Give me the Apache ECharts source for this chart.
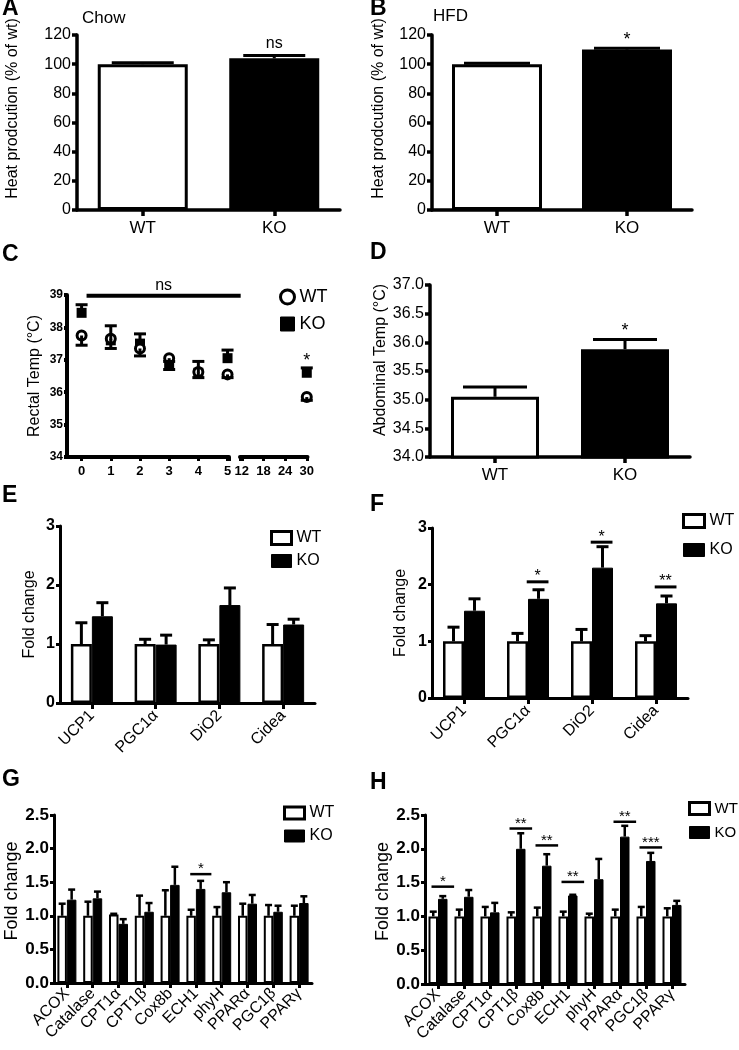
<!DOCTYPE html>
<html><head><meta charset="utf-8">
<script src="https://cdn.jsdelivr.net/npm/echarts@6/dist/echarts.min.js"></script>
<style>html,body{margin:0;padding:0;background:#fff}#c{width:739px;height:1050px}</style>
</head><body><div id="c"></div>
<script>
// ---------------- DATA ----------------
const groupCats = ['WT', 'KO'];
// A: Chow heat production (% of wt)
const heatChow = [100, 104];
const heatChowErr = [101, 106];
const sigChow = [[1, 114, 'ns']];
// B: HFD heat production
const heatHFD = [100, 110];
const heatHFDErr = [100.6, 111];
const sigHFD = [[1, 116.5, '*']];
// C: Rectal temperature over time (h)
const rectalTimes = [0, 1, 2, 3, 4, 5, 30];
const rectalTicksEarly = [0, 1, 2, 3, 4, 5];
const rectalTicksLate = [12, 18, 24, 30];
const rectalWT = [37.75, 37.65, 37.35, 37.05, 36.62, 36.55, 35.85];
const rectalWTLow = [37.45, 37.35, 37.12, 36.7, 36.45, 36.45, 35.75];
const rectalKO = [38.45, 37.6, 37.5, 36.82, 36.6, 37.05, 36.6];
const rectalKOHigh = [38.7, 38.05, 37.8, 36.95, 36.95, 37.3, 36.75];
const rectalNs = [0.17, 5.45, 38.98];
const rectalStar = [[30, 36.95, '*']];
// D: Abdominal temperature
const abdTemp = [35.05, 35.88];
const abdTempErr = [35.22, 36.05];
const sigAbd = [[1, 36.2, '*']];
// E / F: thermogenic genes
const thermoCats = ['UCP1', 'PGC1α', 'DiO2', 'Cidea'];
const eWT = [1, 1, 1, 1];
const eWTErr = [1.36, 1.08, 1.07, 1.33];
const eKO = [1.47, 0.99, 1.66, 1.33];
const eKOErr = [1.70, 1.15, 1.95, 1.42];
const fWT = [1, 1, 1, 1];
const fWTErr = [1.25, 1.14, 1.21, 1.10];
const fKO = [1.54, 1.75, 2.30, 1.67];
const fKOErr = [1.75, 1.91, 2.67, 1.80];
const sigF = [[1, 2.05, '*'], [2, 2.75, '*'], [3, 1.96, '**']];
// G / H: lipid oxidation genes
const lipidCats = ['ACOX', 'Catalase', 'CPT1α', 'CPT1β', 'Cox8b', 'ECH1', 'phyH', 'PPARα', 'PGC1β', 'PPARγ'];
const gWT = [1, 1, 1.02, 1, 1, 1, 1, 1, 1, 1];
const gWTErr = [1.18, 1.21, 1.03, 1.30, 1.38, 1.09, 1.13, 1.18, 1.16, 1.15];
const gKO = [1.24, 1.26, 0.88, 1.06, 1.46, 1.40, 1.35, 1.18, 1.06, 1.19];
const gKOErr = [1.39, 1.36, 0.95, 1.19, 1.73, 1.52, 1.50, 1.31, 1.15, 1.29];
const sigG = [[5, 1.62, '*']];
const hWT = [1, 1, 1, 1, 1, 1, 1, 1, 1, 1];
const hWTErr = [1.07, 1.10, 1.14, 1.06, 1.13, 1.07, 1.04, 1.10, 1.14, 1.12];
const hKO = [1.26, 1.29, 1.06, 2.00, 1.75, 1.31, 1.55, 2.18, 1.82, 1.17];
const hKOErr = [1.30, 1.39, 1.20, 2.23, 1.92, 1.32, 1.85, 2.34, 1.94, 1.23];
const sigH = [[0, 1.44, '*'], [3, 2.30, '**'], [4, 2.05, '**'], [5, 1.51, '**'], [7, 2.40, '**'], [8, 2.02, '***']];

// ---------------- CHART ----------------
const FONT = "'Liberation Sans', Arial, Helvetica, sans-serif";
const chart = echarts.init(document.getElementById('c'));

function line(w) { return { show: true, onZero: false, lineStyle: { color: '#000', width: w } }; }
function tick(len, w, extra) { return Object.assign({ show: true, length: len, lineStyle: { color: '#000', width: w } }, extra || {}); }

function catX(gi, cats, opt) {
  opt = opt || {};
  return {
    gridIndex: gi, type: 'category', data: cats,
    axisLine: line(opt.lw || 3),
    axisTick: tick(opt.tl || 6, opt.lw || 3, { alignWithLabel: true }),
    axisLabel: {
      interval: 0, rotate: opt.rotate || 0, margin: opt.margin || 10, color: '#000',
      fontSize: opt.fs || 17, fontFamily: FONT
    }
  };
}
function valY(gi, min, max, interval, opt) {
  opt = opt || {};
  return {
    gridIndex: gi, type: 'value', min: min, max: max, interval: interval,
    splitLine: { show: false },
    axisLine: line(opt.lw || 3),
    axisTick: tick(opt.tl || 5, opt.lw || 3),
    axisLabel: {
      color: '#000', fontSize: opt.fs || 16, fontWeight: opt.bold ? 'bold' : 'normal',
      fontFamily: opt.ff || FONT, margin: opt.margin || 6,
      formatter: opt.fmt || (v => String(v))
    },
    name: opt.name || '', nameLocation: 'middle', nameGap: opt.gap || 40,
    nameTextStyle: { color: '#000', fontSize: opt.nfs || 16, fontFamily: FONT, padding: [0, 0, 0, opt.shift || 0] }
  };
}

function errSeries(ai, xs, vals, ends, off, capW, lw) {
  return {
    type: 'custom', xAxisIndex: ai, yAxisIndex: ai, z: 5, silent: true,
    data: vals.map((v, i) => [xs[i], v, ends[i]]),
    encode: { x: 0, y: [1, 2] },
    renderItem: (p, api) => {
      const a = api.coord([api.value(0), api.value(1)]);
      const b = api.coord([api.value(0), api.value(2)]);
      const x = a[0] + off;
      return {
        type: 'group', children: [
          { type: 'line', shape: { x1: x, y1: a[1], x2: x, y2: b[1] }, style: { stroke: '#000', lineWidth: lw } },
          { type: 'line', shape: { x1: x - capW / 2, y1: b[1], x2: x + capW / 2, y2: b[1] }, style: { stroke: '#000', lineWidth: lw } }
        ]
      };
    }
  };
}
function idx(arr) { return arr.map((_, i) => i); }

function sigSeries(ai, items, a, b, lw, fs, dy) {
  return {
    type: 'custom', xAxisIndex: ai, yAxisIndex: ai, z: 6, silent: true,
    data: items.map(s => [s[0], s[1]]),
    encode: { x: 0, y: 1 },
    renderItem: (p, api) => {
      const c = api.coord([api.value(0), api.value(1)]);
      const w = api.size([1, 0])[0];
      const x1 = c[0] + a * w, x2 = c[0] + b * w;
      const kids = [];
      if (lw > 0) kids.push({ type: 'line', shape: { x1: x1, y1: c[1], x2: x2, y2: c[1] }, style: { stroke: '#000', lineWidth: lw } });
      kids.push({
        type: 'text', x: (x1 + x2) / 2, y: c[1] - dy,
        style: { text: items[p.dataIndex][2], fill: '#000', fontSize: fs, fontFamily: FONT, align: 'center', verticalAlign: 'middle', textAlign: 'center', textVerticalAlign: 'middle' }
      });
      return { type: 'group', children: kids };
    }
  };
}

function pairBars(ai, wt, ko, bw, bwid) {
  return [
    { type: 'bar', name: 'WT', xAxisIndex: ai, yAxisIndex: ai, data: wt, barWidth: bw, barGap: '0%',
      itemStyle: { color: '#fff', borderColor: '#000', borderWidth: bwid, opacity: 1 } },
    { type: 'bar', name: 'KO', xAxisIndex: ai, yAxisIndex: ai, data: ko, barWidth: bw, barGap: '0%',
      itemStyle: { color: '#000', borderColor: '#000', borderWidth: 1, opacity: 1 } }
  ];
}
function singleBars(ai, vals, bw) {
  return { type: 'bar', name: 'group', xAxisIndex: ai, yAxisIndex: ai, barWidth: bw,
    data: vals.map((v, i) => ({ value: v, itemStyle: { color: i === 0 ? '#fff' : '#000' } })),
    itemStyle: { borderColor: '#000', borderWidth: 3 } };
}
function legendBox(left, top, gap, iw, ih, fs) {
  return {
    left: left, top: top, orient: 'vertical', itemGap: gap, itemWidth: iw, itemHeight: ih, selectedMode: false, padding: 0,
    textStyle: { color: '#000', fontSize: fs, fontFamily: FONT },
    data: [
      { name: 'WT', icon: 'rect', itemStyle: { color: '#fff', borderColor: '#000', borderWidth: 3, opacity: 1 } },
      { name: 'KO', icon: 'rect', itemStyle: { color: '#000', borderColor: '#000', borderWidth: 1, opacity: 1 } }
    ]
  };
}
function letter(t, left, top) {
  return { text: t, left: left, top: top, padding: 0, textStyle: { fontSize: 23, fontWeight: 'bold', color: '#000', fontFamily: FONT } };
}

const early = rectalTimes.map((t, i) => i).filter(i => rectalTimes[i] <= 5);
const late = rectalTimes.map((t, i) => i).filter(i => rectalTimes[i] > 5);
const pick = (arr, ids) => ids.map(i => arr[i]);

const option = {
  animation: false,
  backgroundColor: '#fff',
  title: [
    letter('A', 2, -3), letter('B', 370, -3), letter('C', 2, 243), letter('D', 370, 241),
    letter('E', 2, 484), letter('F', 370, 493), letter('G', 2, 768), letter('H', 370, 771),
    { text: 'Chow', left: 82, top: 10, padding: 0, textStyle: { fontSize: 17, fontWeight: 'normal', color: '#000', fontFamily: FONT } },
    { text: 'HFD', left: 433, top: 8, padding: 0, textStyle: { fontSize: 17, fontWeight: 'normal', color: '#000', fontFamily: FONT } }
  ],
  legend: [
    { left: 279, top: 288, orient: 'vertical', itemGap: 9, itemWidth: 14, itemHeight: 14, selectedMode: false, padding: 0,
      textStyle: { color: '#000', fontSize: 18, fontFamily: FONT },
      data: [
        { name: 'WT', icon: 'circle', itemStyle: { color: '#fff', borderColor: '#000', borderWidth: 3, opacity: 1 } },
        { name: 'KO', icon: 'rect', itemStyle: { color: '#000', borderColor: '#000', borderWidth: 1, opacity: 1 } }
      ] },
    legendBox(270, 530, 7, 20, 13, 16),
    legendBox(682, 513, 13, 21, 13, 16),
    legendBox(283, 805, 7, 20, 12, 16),
    legendBox(688, 801, 9, 20, 12, 15)
  ],
  grid: [
    { left: 77, top: 35, width: 263, height: 175 },
    { left: 432, top: 35, width: 260, height: 175 },
    { left: 67, top: 295, width: 162, height: 162 },
    { left: 240, top: 295, width: 67.5, height: 162 },
    { left: 430, top: 285, width: 260, height: 172 },
    { left: 60, top: 526, width: 255, height: 177 },
    { left: 432, top: 528, width: 256, height: 170 },
    { left: 54, top: 815, width: 258, height: 168 },
    { left: 425, top: 815, width: 260, height: 169 }
  ],
  xAxis: [
    catX(0, groupCats, { lw: 3.5 }),
    catX(1, groupCats, { lw: 3.5 }),
    { gridIndex: 2, type: 'value', min: -0.5, max: 5.05, splitLine: { show: false },
      axisLine: line(4),
      axisTick: tick(4, 3, { customValues: rectalTicksEarly.concat([5.05]) }),
      axisLabel: { customValues: rectalTicksEarly, color: '#000', fontSize: 13, fontWeight: 'bold', margin: 8, fontFamily: FONT } },
    { gridIndex: 3, type: 'value', min: 11.5, max: 30.2, splitLine: { show: false },
      axisLine: line(4),
      axisTick: tick(4, 3, { customValues: [11.5].concat(rectalTicksLate) }),
      axisLabel: { customValues: rectalTicksLate, color: '#000', fontSize: 13, fontWeight: 'bold', margin: 8, fontFamily: FONT } },
    catX(4, groupCats, { lw: 3.5 }),
    catX(5, thermoCats, { rotate: 45, fs: 16, margin: 10 }),
    catX(6, thermoCats, { rotate: 45, fs: 16, margin: 10 }),
    catX(7, lipidCats, { rotate: 45, fs: 16, margin: 8, tl: 5 }),
    catX(8, lipidCats, { rotate: 45, fs: 16, margin: 8, tl: 5 })
  ],
  yAxis: [
    valY(0, 0, 120, 20, { lw: 3.5, name: 'Heat prodcution (% of wt)', gap: 56, shift: 28, nfs: 16 }),
    valY(1, 0, 120, 20, { lw: 3.5, name: 'Heat prodcution (% of wt)', gap: 45, shift: 28, nfs: 16 }),
    valY(2, 34, 39, 1, { lw: 4, fs: 12, bold: true, tl: 3, margin: 4, name: 'Rectal Temp (°C)', gap: 24, nfs: 16 }),
    Object.assign(valY(3, 34, 39, 1, {}), { show: false }),
    valY(4, 34, 37, 0.5, { lw: 3.5, fmt: v => v.toFixed(1), name: 'Abdominal Temp (°C)', gap: 38, shift: 22, nfs: 16 }),
    valY(5, 0, 3, 1, { fs: 16, bold: true, tl: 4, margin: 5, name: 'Fold change', gap: 22, nfs: 16 }),
    valY(6, 0, 3, 1, { fs: 16, bold: true, tl: 4, margin: 5, name: 'Fold change', gap: 23, nfs: 16 }),
    valY(7, 0, 2.5, 0.5, { fs: 17, bold: true, tl: 4, margin: 5, fmt: v => v.toFixed(1), name: 'Fold change', gap: 31, nfs: 18, shift: 16 }),
    valY(8, 0, 2.5, 0.5, { fs: 17, bold: true, tl: 4, margin: 5, fmt: v => v.toFixed(1), name: 'Fold change', gap: 30, nfs: 18, shift: 16 })
  ],
  series: [
    // A
    singleBars(0, heatChow, 90),
    errSeries(0, idx(heatChow), heatChow, heatChowErr, 0, 62, 3),
    sigSeries(0, sigChow, 0, 0, 0, 16, 0),
    // B
    singleBars(1, heatHFD, 90),
    errSeries(1, idx(heatHFD), heatHFD, heatHFDErr, 0, 66, 3),
    sigSeries(1, sigHFD, 0, 0, 0, 18, 0),
    // C early
    errSeries(2, pick(rectalTimes, early), pick(rectalKO, early), pick(rectalKOHigh, early), 0, 12, 3),
    errSeries(2, pick(rectalTimes, early), pick(rectalWT, early), pick(rectalWTLow, early), 0, 12, 3),
    { type: 'scatter', name: 'KO', xAxisIndex: 2, yAxisIndex: 2, symbol: 'rect', symbolSize: 10, z: 3,
      data: early.map(i => [rectalTimes[i], rectalKO[i]]), itemStyle: { color: '#000', opacity: 1 } },
    { type: 'scatter', name: 'WT', xAxisIndex: 2, yAxisIndex: 2, symbol: 'circle', symbolSize: 9, z: 4,
      data: early.map(i => [rectalTimes[i], rectalWT[i]]), itemStyle: { color: '#fff', borderColor: '#000', borderWidth: 3, opacity: 1 } },
    // C late
    errSeries(3, pick(rectalTimes, late), pick(rectalKO, late), pick(rectalKOHigh, late), 0, 12, 3),
    errSeries(3, pick(rectalTimes, late), pick(rectalWT, late), pick(rectalWTLow, late), 0, 12, 3),
    { type: 'scatter', name: 'KO', xAxisIndex: 3, yAxisIndex: 3, symbol: 'rect', symbolSize: 10, z: 3,
      data: late.map(i => [rectalTimes[i], rectalKO[i]]), itemStyle: { color: '#000', opacity: 1 } },
    { type: 'scatter', name: 'WT', xAxisIndex: 3, yAxisIndex: 3, symbol: 'circle', symbolSize: 9, z: 4,
      data: late.map(i => [rectalTimes[i], rectalWT[i]]), itemStyle: { color: '#fff', borderColor: '#000', borderWidth: 3, opacity: 1 } },
    { type: 'custom', xAxisIndex: 2, yAxisIndex: 2, silent: true, z: 6,
      data: [[rectalNs[0], rectalNs[2]]], encode: { x: 0, y: 1 },
      renderItem: (p, api) => {
        const a = api.coord([rectalNs[0], rectalNs[2]]);
        const b = api.coord([rectalNs[1], rectalNs[2]]);
        return { type: 'group', children: [
          { type: 'line', shape: { x1: a[0], y1: a[1], x2: b[0], y2: b[1] }, style: { stroke: '#000', lineWidth: 4 } },
          { type: 'text', x: (a[0] + b[0]) / 2, y: a[1] - 10, style: { text: 'ns', fill: '#000', fontSize: 16, fontFamily: FONT, align: 'center', verticalAlign: 'middle' } }
        ] };
      } },
    { type: 'custom', xAxisIndex: 3, yAxisIndex: 3, silent: true, z: 6,
      data: rectalStar.map(s => [s[0], s[1]]), encode: { x: 0, y: 1 },
      renderItem: (p, api) => {
        const c = api.coord([api.value(0), api.value(1)]);
        return { type: 'text', x: c[0], y: c[1], style: { text: rectalStar[p.dataIndex][2], fill: '#000', fontSize: 18, fontFamily: FONT, align: 'center', verticalAlign: 'middle' } };
      } },
    // D
    singleBars(4, abdTemp, 88),
    errSeries(4, idx(abdTemp), abdTemp, abdTempErr, 0, 64, 3),
    sigSeries(4, sigAbd, 0, 0, 0, 18, 0),
    // E
    ...pairBars(5, eWT, eKO, 21, 2.5),
    errSeries(5, idx(eWT), eWT, eWTErr, -10.5, 12, 3),
    errSeries(5, idx(eKO), eKO, eKOErr, 10.5, 12, 3),
    // F
    ...pairBars(6, fWT, fKO, 21, 2.5),
    errSeries(6, idx(fWT), fWT, fWTErr, -10.5, 12, 3),
    errSeries(6, idx(fKO), fKO, fKOErr, 10.5, 12, 3),
    sigSeries(6, sigF, -0.02, 0.32, 3, 16, 5),
    // G
    ...pairBars(7, gWT, gKO, 9.5, 2),
    errSeries(7, idx(gWT), gWT, gWTErr, -4.75, 7, 2.5),
    errSeries(7, idx(gKO), gKO, gKOErr, 4.75, 7, 2.5),
    sigSeries(7, sigG, -0.22, 0.6, 2.5, 15, 5),
    // H
    ...pairBars(8, hWT, hKO, 9.5, 2),
    errSeries(8, idx(hWT), hWT, hWTErr, -4.75, 7, 2.5),
    errSeries(8, idx(hKO), hKO, hKOErr, 4.75, 7, 2.5),
    sigSeries(8, sigH, -0.25, 0.62, 2.5, 15, 5)
  ]
};
chart.setOption(option);
</script>
</body></html>
